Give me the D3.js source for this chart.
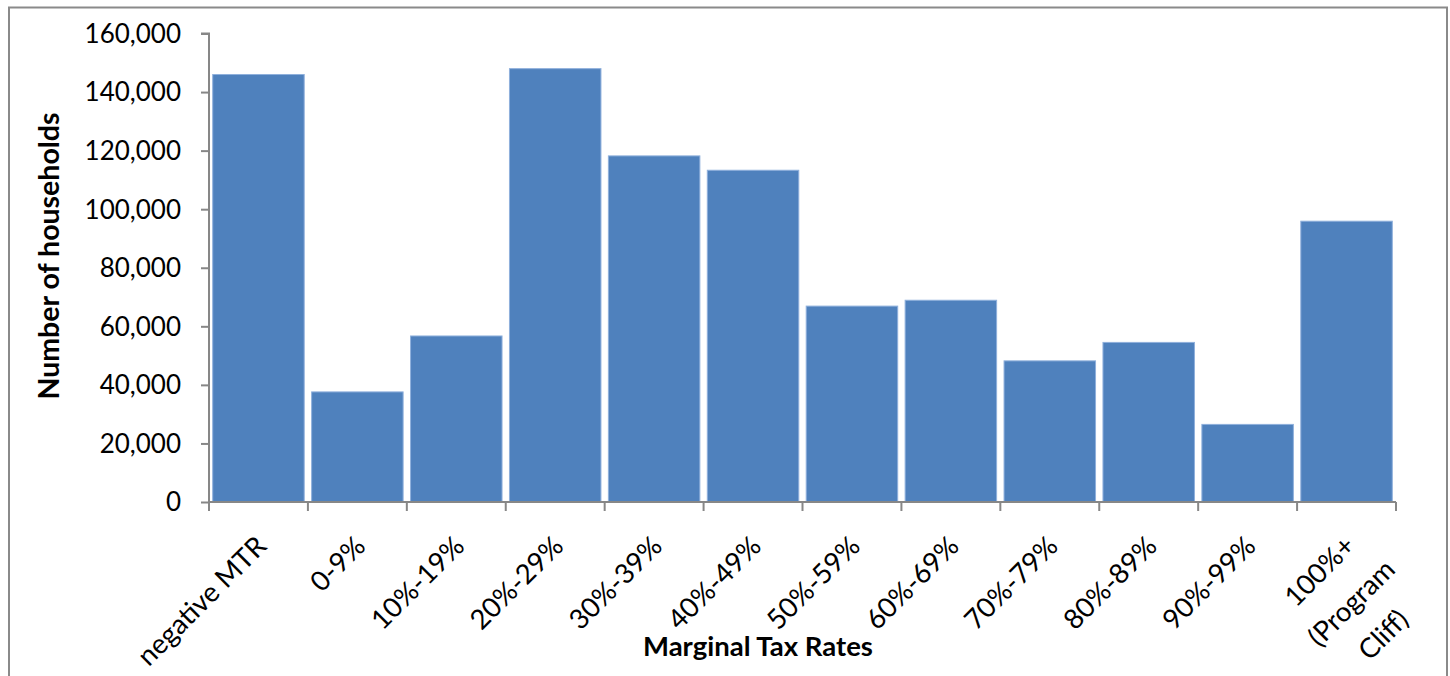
<!DOCTYPE html>
<html><head><meta charset="utf-8">
<script src="https://cdn.jsdelivr.net/npm/d3@7"></script>
<style>
html,body{margin:0;padding:0;background:#fff;}
svg{display:block;}
</style></head>
<body>
<svg id="chart" width="1450" height="676"></svg>
<script>
const categories = ["negative MTR","0-9%","10%-19%","20%-29%","30%-39%","40%-49%","50%-59%","60%-69%","70%-79%","80%-89%","90%-99%","100%+\n(Program\nCliff)"];
const households = [146000,37600,56700,148000,118200,113300,66900,68900,48200,54500,26500,95900];
const yTicks = [0,20000,40000,60000,80000,100000,120000,140000,160000];
const yTitle = "Number of households";
const xTitle = "Marginal Tax Rates";

const svg = d3.select("#chart");
const W = 1450, H = 676;
const m = {left:209, right:1396, top:33.5, bottom:502};
const FONT = "Lato, 'Open Sans', sans-serif";
const axisColor = "#878787";

// outer frame
svg.append("rect").attr("x",9).attr("y",7.5).attr("width",1438).attr("height",H)
  .attr("fill","none").attr("stroke","#8a8a8a").attr("stroke-width",2);

const x = d3.scaleBand().domain(categories).range([m.left,m.right]).paddingInner(0.065).paddingOuter(0.0325);
const xb = d3.scaleBand().domain(categories).range([m.left,m.right]);
const y = d3.scaleLinear().domain([0,160000]).range([m.bottom,m.top]);

// bars
svg.append("g").selectAll("rect").data(households).join("rect")
  .attr("x",(d,i)=>x(categories[i])+0.5)
  .attr("width",x.bandwidth()-1)
  .attr("y",d=>y(d))
  .attr("height",d=>y(0)-y(d))
  .attr("fill","#4f81bd")
  .attr("stroke","#8fb0dc")
  .attr("stroke-width",1);

// y axis
const yAxis = d3.axisLeft(y).tickValues(yTicks).tickSize(8).tickPadding(20)
  .tickFormat(d3.format(","));
const gy = svg.append("g").attr("transform",`translate(${m.left},0)`).call(yAxis);
gy.select(".domain").attr("stroke",axisColor).attr("stroke-width",2).attr("d",`M-8,${m.top}H0V${m.bottom}`);
gy.selectAll(".tick line").attr("stroke",axisColor).attr("stroke-width",2);
gy.selectAll(".tick text").attr("font-family",FONT).attr("font-size",26).attr("fill","#000").attr("dy","0.34em");

// x axis: ticks at band boundaries
const boundaries = categories.map(c=>xb(c)).concat([m.right]);
const gx = svg.append("g");
gx.append("line").attr("x1",m.left).attr("x2",m.right).attr("y1",m.bottom).attr("y2",m.bottom)
  .attr("stroke",axisColor).attr("stroke-width",2);
gx.selectAll("line.tk").data(boundaries).join("line").attr("class","tk")
  .attr("x1",d=>d).attr("x2",d=>d).attr("y1",m.bottom).attr("y2",m.bottom+9)
  .attr("stroke",axisColor).attr("stroke-width",2);

// category labels rotated
const LFS = 27.5;
const lblG = gx.selectAll("g.lbl").data(categories).join("g").attr("class","lbl")
  .attr("transform",c=>`translate(${xb(c)+xb.bandwidth()/2+3},541) rotate(-45)`);
lblG.each(function(c){
  const g = d3.select(this);
  const lines = c.split("\n");
  if(lines.length===1){
    g.append("text").attr("text-anchor","end").attr("dy","0.35em")
      .attr("font-family",FONT).attr("font-size",LFS).attr("fill","#000").text(c);
  } else {
    const ts = lines.map((t,i)=>g.append("text").attr("text-anchor","middle").attr("dy","0.35em")
      .attr("font-family",FONT).attr("font-size",LFS).attr("fill","#000").attr("y",i*45).text(t));
    const maxW = d3.max(ts,t=>t.node().getComputedTextLength());
    ts.forEach(t=>t.attr("x",-maxW/2+12));
  }
});

// axis titles
svg.append("text").attr("transform",`translate(59,256) rotate(-90)`)
  .attr("text-anchor","middle").attr("font-family",FONT).attr("font-weight","bold")
  .attr("font-size",28.5).attr("fill","#000").text(yTitle);
svg.append("text").attr("x",758).attr("y",656).attr("text-anchor","middle")
  .attr("font-family",FONT).attr("font-weight","bold").attr("font-size",27.5).attr("fill","#000").text(xTitle);
</script>
</body></html>
